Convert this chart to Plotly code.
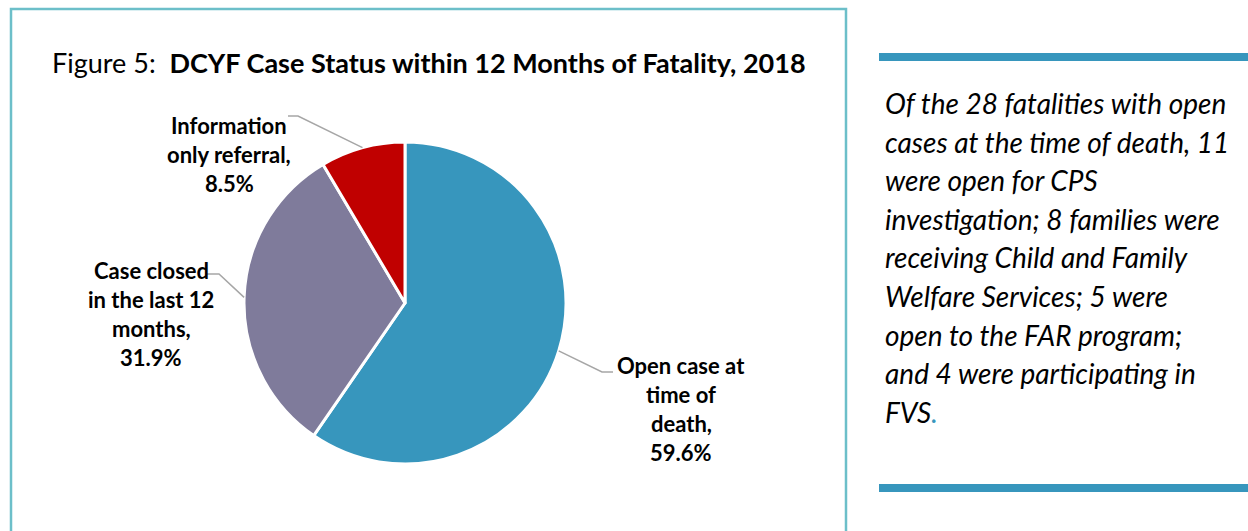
import math
import plotly.graph_objects as go

# ---- data ----
categories = ["Open case at time of death", "Case closed in the last 12 months", "Information only referral"]
values = [59.6, 31.9, 8.5]
colors = ["#3796BD", "#7F7B9B", "#C00000"]
label_lines = [
    ["Open case at", "time of", "death,", "59.6%"],
    ["Case closed", "in the last 12", "months,", "31.9%"],
    ["Information", "only referral,", "8.5%"],
]
title_prefix = "Figure 5:"
title_main = "DCYF Case Status within 12 Months of Fatality, 2018"
side_lines = [
    "Of the 28 fatalities with open",
    "cases at the time of death, 11",
    "were open for CPS",
    "investigation; 8 families were",
    "receiving Child and Family",
    "Welfare Services; 5 were",
    "open to the FAR program;",
    "and 4 were participating in",
    "FVS",
]

# ---- layout constants (pixels) ----
W, H = 1248, 531
CX, CY, R = 405, 303, 161
FONT = "Lato"
LABEL_SIZE = 22
LABEL_LH = 29
# per-label: (elbow point, line end point, text center x, first line y)
label_geom = [
    ((602, 372), (613, 372), 681, 365),
    ((219, 274), (207, 274), 151, 270),
    ((298, 116), (288, 116), 229, 125),
]

fig = go.Figure()
fig.add_trace(go.Pie(
    values=values, labels=categories, sort=False, direction="clockwise", rotation=0,
    marker=dict(colors=colors, line=dict(color="white", width=3)),
    textinfo="none", hoverinfo="label+percent", showlegend=False,
    domain=dict(x=[(CX - R) / W, (CX + R) / W], y=[(H - (CY + R)) / H, (H - (CY - R)) / H]),
))

shapes = []
annotations = []

# outer chart frame
shapes.append(dict(type="rect", xref="x", yref="y", x0=11, y0=9, x1=846, y1=545,
                   line=dict(color="#6CBFC9", width=2.5), fillcolor="rgba(0,0,0,0)", layer="below"))
# side bars
for y0 in (53, 484):
    shapes.append(dict(type="rect", xref="x", yref="y", x0=879, y0=y0, x1=1250, y1=y0 + 8,
                       line=dict(width=0), fillcolor="#3796BD"))

# leader lines from slice mid-angles
total = sum(values)
cum = 0.0
for v, lines, (elbow, end, tx, ty) in zip(values, label_lines, label_geom):
    mid = (cum + v / 2) / total
    cum += v
    ang = 2 * math.pi * mid
    sx = CX + R * math.sin(ang)
    sy = CY - R * math.cos(ang)
    path = f"M {sx:.1f},{sy:.1f} L {elbow[0]},{elbow[1]} L {end[0]},{end[1]}"
    shapes.append(dict(type="path", xref="x", yref="y", path=path,
                       line=dict(color="#A6A6A6", width=1.5)))
    for i, t in enumerate(lines):
        annotations.append(dict(x=tx, y=ty + i * LABEL_LH, xref="x", yref="y", text=f"<b>{t}</b>",
                                showarrow=False, xanchor="center", yanchor="middle",
                                font=dict(family=FONT, size=LABEL_SIZE, color="black")))

# title
annotations.append(dict(x=50, y=62, xref="x", yref="y",
                        text=f"{title_prefix}\u00a0\u00a0<b>{title_main}</b>",
                        showarrow=False, xanchor="left", yanchor="middle",
                        font=dict(family=FONT, size=27, color="black")))

# side text
for i, t in enumerate(side_lines):
    txt = f"<i>{t}</i>"
    if i == len(side_lines) - 1:
        txt = f"<i>{t}<span style='color:#3796BD'>.</span></i>"
    annotations.append(dict(x=883, y=103 + i * 38.6, xref="x", yref="y", text=txt,
                            showarrow=False, xanchor="left", yanchor="middle",
                            font=dict(family=FONT, size=28, color="black")))

fig.update_layout(
    width=W, height=H, margin=dict(l=0, r=0, t=0, b=0),
    paper_bgcolor="white", plot_bgcolor="white",
    xaxis=dict(range=[0, W], visible=False, fixedrange=True),
    yaxis=dict(range=[H, 0], visible=False, fixedrange=True),
    shapes=shapes, annotations=annotations, showlegend=False,
)
fig.write_html("out.html", config={"displayModeBar": False},
               post_script="document.body.style.margin='0';document.body.style.overflow='hidden';")
